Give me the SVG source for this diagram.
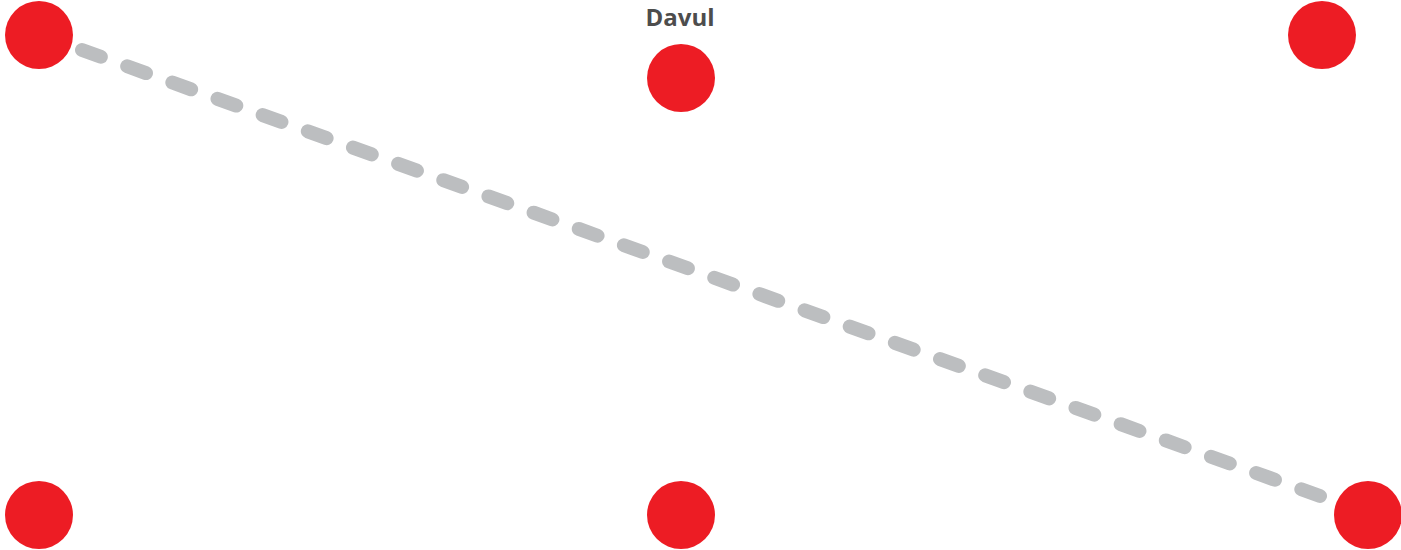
<svg xmlns="http://www.w3.org/2000/svg" width="1401" height="550" viewBox="0 0 1401 550">
<style>
.node{fill:#ed1c24}
.conn{stroke:#bcbec0;stroke-width:14;stroke-linecap:round;stroke-dasharray:20 28;fill:none}
.lbl{font-family:"Open Sans","DejaVu Sans",sans-serif;font-weight:bold;font-size:24px;fill:#4d4d4d;text-anchor:middle}
</style>
<rect width="1401" height="550" fill="#fff"/>
<g id="connectors">
<line class="conn" x1="82" y1="50" x2="1320" y2="496"/>
</g>
<g id="node-tl"><circle class="node" cx="39" cy="35" r="34"/></g>
<g id="node-tm"><circle class="node" cx="681" cy="78" r="34"/><text class="lbl" x="680" y="26">Davul</text></g>
<g id="node-tr"><circle class="node" cx="1322" cy="35" r="34"/></g>
<g id="node-bl"><circle class="node" cx="39" cy="515" r="34"/></g>
<g id="node-bm"><circle class="node" cx="681" cy="515" r="34"/></g>
<g id="node-br"><circle class="node" cx="1368" cy="515" r="34"/></g>
</svg>
